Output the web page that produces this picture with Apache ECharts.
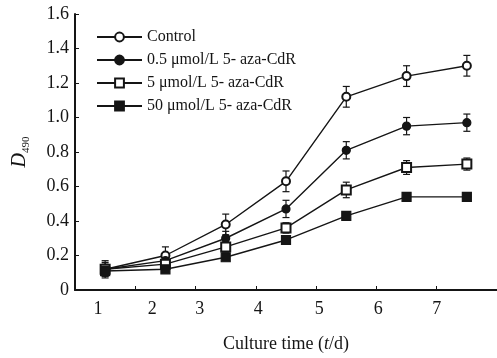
<!DOCTYPE html>
<html><head><meta charset="utf-8">
<script src="https://cdn.jsdelivr.net/npm/echarts@6/dist/echarts.min.js"></script>
<style>html,body{margin:0;padding:0;background:#fff}#c{width:497px;height:358px}</style>
</head><body><div id="c"></div>
<script>
// ---- data ----
const xDays = [1.5, 2.5, 3.5, 4.5, 5.5, 6.5, 7.5];
const seriesNames = ['Control', '0.5 μmol/L 5- aza-CdR', '5 μmol/L 5- aza-CdR', '50 μmol/L 5- aza-CdR'];
const controlVals = [0.12, 0.20, 0.38, 0.63, 1.12, 1.24, 1.30];
const low05Vals   = [0.12, 0.17, 0.30, 0.47, 0.81, 0.95, 0.97];
const mid5Vals    = [0.12, 0.15, 0.25, 0.36, 0.58, 0.71, 0.73];
const high50Vals  = [0.11, 0.12, 0.19, 0.29, 0.43, 0.54, 0.54];
const controlErr = [0.05, 0.05, 0.06, 0.06, 0.06, 0.06, 0.06];
const low05Err   = [0.04, 0.03, 0.04, 0.05, 0.05, 0.05, 0.05];
const mid5Err    = [0.03, 0.02, 0.03, 0.03, 0.045, 0.04, 0.035];
const high50Err  = [0.03, 0.02, 0.02, 0.02, 0.02, 0.02, 0.02];
const xTickLabels = ['1', '2', '3', '4', '5', '6', '7'];
const xLabelValues = [1.38, 2.28, 3.07, 4.04, 5.05, 6.03, 7];
const xTickValues = [2, 3, 4, 5, 6, 7];

const FONT = 'Liberation Serif';
const INK = '#151515';
const allVals = [controlVals, low05Vals, mid5Vals, high50Vals];
const allErr = [controlErr, low05Err, mid5Err, high50Err];
const symbols = ['emptyCircle', 'circle', 'emptyRect', 'rect'];
const symSizes = [8, 8, 9, 9];

const lineSeries = seriesNames.map((n, k) => ({
  name: n, type: 'line', z: 3,
  data: xDays.map((x, i) => [x, allVals[k][i]]),
  symbol: symbols[k], symbolSize: symSizes[k], showAllSymbol: true,
  lineStyle: {color: INK, width: 1.4},
  itemStyle: {color: INK, borderColor: INK, borderWidth: 1.2},
  emphasis: {disabled: true}
}));
const errSeries = seriesNames.map((n, k) => ({
  name: 'err' + k, type: 'custom', z: 2,
  data: xDays.map((x, i) => [x, allVals[k][i], allErr[k][i]]),
  encode: {x: 0, y: 1},
  renderItem: function (params, api) {
    const x = api.value(0), y = api.value(1), e = api.value(2);
    const t = api.coord([x, y + e]), b = api.coord([x, y - e]);
    const hw = 3.5, st = {stroke: INK, lineWidth: 1.2};
    return {type: 'group', children: [
      {type: 'line', shape: {x1: t[0], y1: t[1], x2: b[0], y2: b[1]}, style: st},
      {type: 'line', shape: {x1: t[0] - hw, y1: t[1], x2: t[0] + hw, y2: t[1]}, style: st},
      {type: 'line', shape: {x1: b[0] - hw, y1: b[1], x2: b[0] + hw, y2: b[1]}, style: st}
    ]};
  }
}));

const chart = echarts.init(document.getElementById('c'), null, {renderer: 'canvas'});
chart.setOption({
  animation: false,
  backgroundColor: '#fff',
  grid: {left: 75, right: 0, top: 14, bottom: 68, containLabel: false},
  legend: {
    data: seriesNames, orient: 'vertical', left: 91, top: 24,
    itemWidth: 45, itemHeight: 11, itemGap: 7,
    textStyle: {fontFamily: FONT, fontSize: 16, color: INK}
  },
  xAxis: {
    type: 'value', min: 1, max: 8,
    axisLine: {show: true, lineStyle: {color: INK, width: 2}},
    splitLine: {show: false},
    axisTick: {show: true, inside: true, length: 4, customValues: xTickValues, lineStyle: {color: INK}},
    axisLabel: {
      customValues: xLabelValues, margin: 10,
      fontFamily: FONT, fontSize: 18, color: INK,
      formatter: function (v) {
        let best = 0, bd = 1e9;
        xLabelValues.forEach((p, i) => { const d = Math.abs(p - v); if (d < bd) { bd = d; best = i; } });
        return xTickLabels[best];
      }
    },
    name: 'Culture time ({t|t}/d)', nameLocation: 'middle', nameGap: 45,
    nameTextStyle: {fontFamily: FONT, fontSize: 18, color: INK,
      rich: {t: {fontFamily: FONT, fontSize: 18, fontStyle: 'italic', color: INK}}}
  },
  yAxis: {
    type: 'value', min: 0, max: 1.6, interval: 0.2,
    axisLine: {show: true, lineStyle: {color: INK, width: 2}},
    splitLine: {show: false},
    axisTick: {show: true, inside: true, length: 4, lineStyle: {color: INK}},
    axisLabel: {fontFamily: FONT, fontSize: 18, color: INK, margin: 6,
      formatter: v => v === 0 ? '0' : v.toFixed(1)},
    name: '{d|D}{s|490}', nameLocation: 'middle', nameGap: 43,
    nameTextStyle: {fontFamily: FONT, color: INK,
      rich: {
        d: {fontFamily: FONT, fontSize: 20, fontStyle: 'italic', color: INK, lineHeight: 24, verticalAlign: 'middle'},
        s: {fontFamily: FONT, fontSize: 11, color: INK, lineHeight: 11, verticalAlign: 'bottom'}
      }}
  },
  series: errSeries.concat(lineSeries)
});
</script></body></html>
